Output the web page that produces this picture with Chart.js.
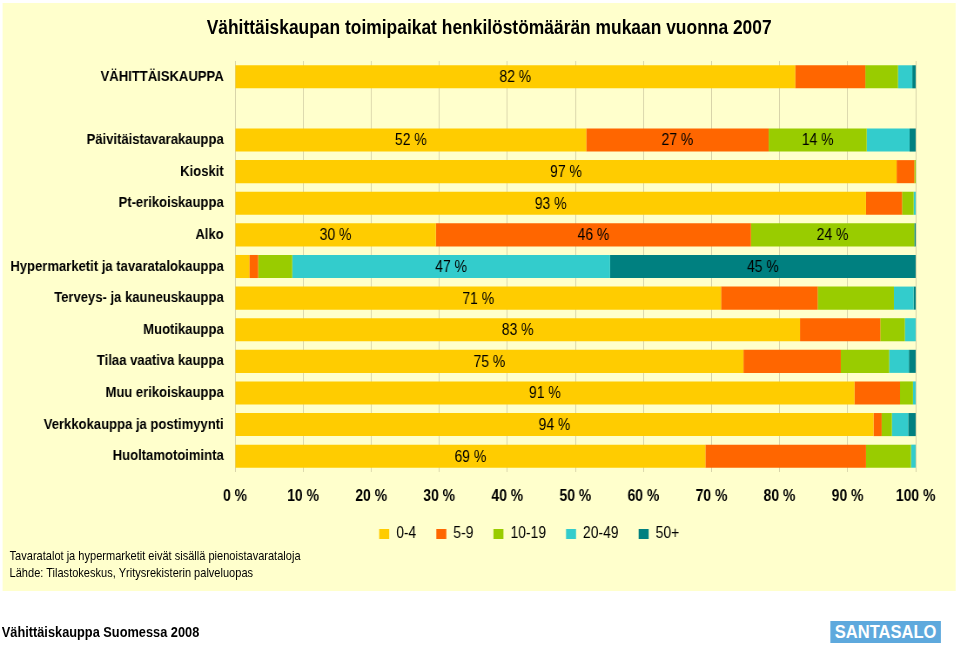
<!DOCTYPE html>
<html>
<head>
<meta charset="utf-8">
<title>Vähittäiskaupan toimipaikat</title>
<script src="https://cdn.jsdelivr.net/npm/chart.js@4.4.0/dist/chart.umd.min.js"></script>
<style>
  html, body { margin: 0; background: #fff; overflow: hidden; font-family: 'Liberation Sans', Arial, sans-serif; }
  /* koko kuva piirretään leveämpänä ja puristetaan kapeaksi, kuten alkuperäisessä */
  #wrap { position: relative; width: 1103px; height: 645px; transform: scaleX(0.8704); transform-origin: 0 0; }
  #bg { position: absolute; left: 3px; top: 3px; width: 1095px; height: 588px; background: #ffffcc; }
  #chart { position: absolute; left: 0; top: 0; }
  #title { position: absolute; left: 0; width: 1124px; top: 16px; text-align: center; font-size: 20px; font-weight: bold; color: #000; }
  .note { position: absolute; left: 11px; font-size: 12.7px; color: #000; }
  #footer { position: absolute; left: 2px; top: 624px; font-size: 14.7px; font-weight: bold; color: #000; }
  #logo { position: absolute; left: 954px; top: 621px; width: 127px; height: 22px; background: #5ea9dd; color: #fff; font-weight: bold; font-size: 19px; text-align: center; line-height: 22px; }
</style>
</head>
<body>
<div id="wrap">
  <div id="bg"></div>
  <canvas id="chart" width="1103" height="645"></canvas>
  <div id="title">Vähittäiskaupan toimipaikat henkilöstömäärän mukaan vuonna 2007</div>
  <div class="note" style="top:549px">Tavaratalot ja hypermarketit eivät sisällä pienoistavarataloja</div>
  <div class="note" style="top:566px">Lähde: Tilastokeskus, Yritysrekisterin palveluopas</div>
  <div id="footer">Vähittäiskauppa Suomessa 2008</div>
  <div id="logo">SANTASALO</div>
</div>
<script>
var toimialat = ['VÄHITTÄISKAUPPA', '', 'Päivitäistavarakauppa', 'Kioskit', 'Pt-erikoiskauppa', 'Alko',
    'Hypermarketit ja tavaratalokauppa', 'Terveys- ja kauneuskauppa', 'Muotikauppa', 'Tilaa vaativa kauppa',
    'Muu erikoiskauppa', 'Verkkokauppa ja postimyynti', 'Huoltamotoiminta'];

var ryhmat = ['0-4', '5-9', '10-19', '20-49', '50+'];
var varit = ['#ffcc00', '#ff6600', '#99cc00', '#33cccc', '#008080'];

// osuudet (%) henkilöstön kokoluokittain
var data04 = [82.3, null, 51.6, 97.2, 92.7, 29.5, 2.1, 71.4, 83.0, 74.7, 91.0, 93.8, 69.1];
var data59 = [10.3, null, 26.8, 2.6, 5.3, 46.3, 1.3, 14.2, 11.8, 14.3, 6.7, 1.2, 23.6];
var data1019 = [4.8, null, 14.4, 0.2, 1.7, 24.0, 5.0, 11.2, 3.6, 7.1, 1.9, 1.5, 6.6];
var data2049 = [2.1, null, 6.3, 0, 0.3, 0, 46.7, 2.9, 1.6, 2.9, 0.4, 2.4, 0.7];
var data50 = [0.5, null, 0.9, 0, 0, 0.2, 44.9, 0.3, 0, 1.0, 0, 1.1, 0];

// rivit joille arvo kirjoitetaan palkkiin
var nimiRivit04 = [0, 2, 3, 4, 5, 7, 8, 9, 10, 11, 12];
var nimiRivit59 = [2, 5];
var nimiRivit1019 = [2, 5];
var nimiRivit2049 = [6];
var nimiRivit50 = [6];

var xTicks = [0, 10, 20, 30, 40, 50, 60, 70, 80, 90, 100];

var sarjat = [data04, data59, data1019, data2049, data50];
var nimiRivit = [nimiRivit04, nimiRivit59, nimiRivit1019, nimiRivit2049, nimiRivit50];

Chart.defaults.font.family = "'Liberation Sans', Arial, sans-serif";
Chart.defaults.color = '#000';

// arvot palkkien keskelle
const arvot = {
    id: 'arvot',
    afterDatasetsDraw(chart) {
        const ctx = chart.ctx;
        ctx.save();
        ctx.font = "16px 'Liberation Sans', Arial, sans-serif";
        ctx.fillStyle = '#000';
        ctx.textAlign = 'center';
        ctx.textBaseline = 'middle';
        chart.data.datasets.forEach((ds, i) => {
            const meta = chart.getDatasetMeta(i);
            nimiRivit[i].forEach(r => {
                const el = meta.data[r];
                const v = ds.data[r];
                if (!el || v == null) return;
                ctx.fillText(Math.round(v) + ' %', (el.x + el.base) / 2, el.y + 1);
            });
        });
        ctx.restore();
    }
};

// selite keskitetään kuten alkuperäisessä
const seliteSiirto = {
    id: 'seliteSiirto',
    afterLayout(chart) {
        chart.legend.left = 164;
    }
};

const ctx = document.getElementById('chart').getContext('2d');
const chart = new Chart(ctx, {
    type: 'bar',
    data: {
        labels: toimialat,
        datasets: ryhmat.map((r, i) => ({
            label: r,
            data: sarjat[i],
            backgroundColor: varit[i],
            borderWidth: 0,
            barPercentage: 0.73,
            categoryPercentage: 1
        }))
    },
    options: {
        indexAxis: 'y',
        responsive: false,
        animation: false,
        layout: { padding: { left: 0, right: 51, top: 61, bottom: 93 } },
        scales: {
            x: {
                stacked: true,
                min: 0,
                max: 100,
                afterBuildTicks: (s) => { s.ticks = xTicks.map(v => ({ value: v })); },
                afterFit: (s) => { s.height = 31; },
                ticks: { callback: (v) => v + ' %', padding: 15, font: { size: 16, weight: 'bold' }, color: '#000', maxRotation: 0 },
                grid: { color: '#d6d2a8', drawTicks: false },
                border: { display: false }
            },
            y: {
                stacked: true,
                afterFit: (s) => { s.width = 270; },
                ticks: { padding: 13, font: { size: 15, weight: 'bold' }, color: '#000', autoSkip: false },
                grid: { display: false, drawTicks: false },
                border: { display: false }
            }
        },
        plugins: {
            legend: {
                position: 'bottom',
                labels: { boxWidth: 11.5, boxHeight: 10, padding: 23, font: { size: 16 }, color: '#000' }
            },
            tooltip: { enabled: false }
        }
    },
    plugins: [arvot, seliteSiirto]
});
</script>
</body>
</html>
